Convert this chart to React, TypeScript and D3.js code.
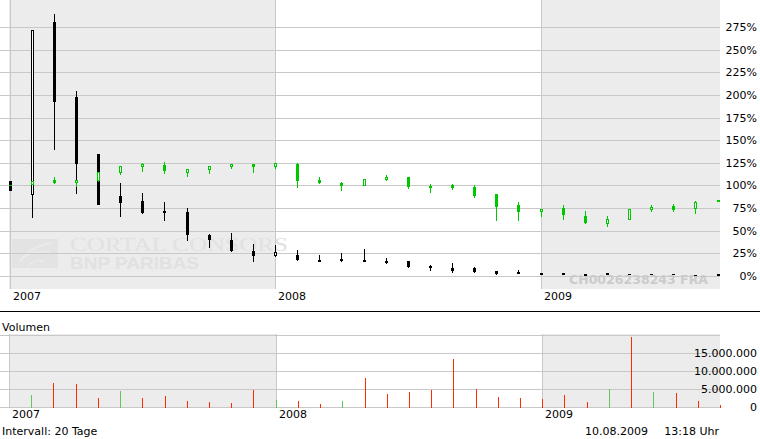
import React from "react";
import * as d3 from "d3";

// ---- data ----
const yearLabels = ["2007", "2008", "2009"];
const yearStartIndex = [0, 12, 24];

const blackOpen = [105, 90, 280, 198, 135, 88, 83, 72, 71, 45, 40, 28, 22, 23, 18, 19, 18, 17, 16.6, 11.4, 8.5, 8.5, 5.2, 4.8, 3, 2.8, 2, 3, 2.4, 2.2, 1.8, 1.6, 2.2];
const blackHigh = [105, 272, 289, 204, 135, 103, 92, 82, 75, 46, 47, 35, 34, 29, 23, 25, 30, 20, 16.6, 12, 14.4, 9.6, 5.2, 6.6, 3, 3.4, 2.4, 3.4, 2.4, 2.6, 1.8, 1.6, 2.6];
const blackLow = [94, 64, 139, 91, 78, 65, 68, 61, 39, 31, 26, 15, 21, 17, 15.5, 15, 15, 13, 9, 6, 3.7, 3.7, 1, 2.5, 1.4, 1, 0.4, 1, 1.2, 0.8, 1, 0.6, 0.2];
const blackClose = [94, 272, 192, 124, 78, 81, 70, 70, 45, 40, 28, 22, 26.5, 18, 15.5, 17, 15.5, 14, 10.3, 8.5, 5.5, 4.4, 2.5, 2.5, 1.4, 1, 0.4, 1, 1.2, 0.8, 1, 0.6, 0.2];

const greenOpen = [100, 100.5, 106, 103, 105, 114, 120.7, 123, 114, 117.4, 120.7, 123.7, 120.7, 123.7, 106, 103, 99.7, 106, 109.3, 99.7, 100.5, 98.3, 90.6, 78.4, 71, 74.8, 66.3, 57.8, 61.5, 73.2, 77.3, 73.6, 81.4];
const greenHigh = [100, 105, 109, 106, 115, 121.5, 125, 126, 117.8, 121, 123.7, 123.7, 124.5, 124.5, 109.3, 103.8, 106.8, 111.9, 109.3, 101.6, 101.9, 100.8, 90.6, 82, 74.3, 78.4, 71.8, 66.3, 74.3, 78, 79.5, 82.8, 83.6];
const greenLow = [100, 100.5, 101.6, 98.6, 104, 112, 115, 112.6, 109.6, 112.6, 118.5, 114, 118.2, 97.5, 101.6, 93.9, 99.7, 104.9, 96.4, 92, 95, 85.8, 60.7, 60.7, 65.2, 62.2, 57.4, 54.1, 61.5, 71, 71, 68.8, 81.4];
const greenClose = [100, 105, 103, 106, 114.5, 121.5, 124, 116.3, 117.8, 121, 123.7, 120.7, 124.5, 105.2, 102.4, 99.4, 106.8, 109.7, 98.6, 97.5, 96.9, 88.3, 76.5, 71, 74.3, 67, 58.9, 63, 74.3, 76.2, 73.2, 81.7, 83.6];

const volumeMillions = [0, 3.4, 6.75, 6.4, 2.6, 4.5, 2.6, 3.1, 1.75, 1.5, 1.2, 4.8, 2.0, 1.75, 0.9, 1.75, 8.1, 3.7, 4.25, 4.8, 13.4, 5.1, 2.9, 2.6, 2.3, 3.4, 1.5, 5.1, 19.5, 4.25, 4.0, 1.75, 0.6];
const volumeUp = [1, 1, 0, 0, 0, 1, 0, 0, 0, 0, 0, 0, 1, 0, 0, 1, 0, 0, 0, 0, 0, 0, 0, 0, 0, 0, 0, 1, 0, 1, 0, 0, 0];

const priceTicks = [0, 25, 50, 75, 100, 125, 150, 175, 200, 225, 250, 275];
const volumeGrid = [0, 5, 10, 15, 20];
const volumeTickLabels = ["0", "5.000.000", "10.000.000", "15.000.000"];

const FONT = "'DejaVu Sans', Verdana, sans-serif";
const BG = "#ececec";
const GRID = "#c8c8c8";
const GREEN = "#00c800";

function Candles({ open, high, low, close, color, hollowFill, x, y }) {
  return (
    <g>
      {open.map((o, i) => {
        const cx = Math.round(x(i));
        const c = close[i];
        const top = Math.round(y(Math.max(o, c)));
        const bot = Math.round(y(Math.min(o, c)));
        const yh = Math.round(y(high[i]));
        const yl = Math.round(y(low[i]));
        const up = c > o;
        const h = Math.max(1, bot - top);
        return (
          <g key={i}>
            {yl - yh > 0 && (
              <line x1={cx + 0.5} x2={cx + 0.5} y1={yh} y2={yl} stroke={color} strokeWidth={1} />
            )}
            {up && h >= 3 ? (
              <rect x={cx - 0.5} y={top + 0.5} width={2} height={h - 1} fill={hollowFill} stroke={color} strokeWidth={1} />
            ) : (
              <rect x={cx - 1} y={top} width={3} height={h} fill={color} />
            )}
          </g>
        );
      })}
    </g>
  );
}

export default function App() {
  const n = blackOpen.length;
  const x = d3.scaleLinear().domain([0, n - 1]).range([9.5, 717.5]);
  const xv = d3.scaleLinear().domain([0, n - 1]).range([9, 720]);
  const y = d3.scaleLinear().domain([0, 275]).range([276, 27]);
  const yv = d3.scaleLinear().domain([0, 20]).range([407, 335]);

  const plotLeft = 9;
  const plotRight = 720;
  const yearX = yearStartIndex.map((i) => Math.round(x(i)));
  const yearXV = yearStartIndex.map((i) => Math.round(xv(i)));

  return (
    <svg width={760} height={439} style={{ position: "absolute", left: 0, top: 0, display: "block" }}>
      <rect x={0} y={0} width={760} height={439} fill="#fff" />
      {/* ---- main panel ---- */}
      <rect x={plotLeft} y={0} width={yearX[1] - plotLeft} height={289} fill={BG} />
      <rect x={yearX[2]} y={0} width={plotRight - yearX[2]} height={289} fill={BG} />

      {/* watermark */}
      <g>
        <rect x={12} y={239} width={46} height={29} fill="#e3e3e3" />
        <path d="M20,262 Q30,246 52,243" stroke="#ebebeb" strokeWidth={2} fill="none" />
        <path d="M22,258 Q34,250 50,252" stroke="#ebebeb" strokeWidth={1.5} fill="none" />
        <path d="M28,266 Q36,258 44,262" stroke="#ebebeb" strokeWidth={1.5} fill="none" />
        <text fill="#e1e1e1">
          <tspan x={70} y={251} fontFamily="'Liberation Serif', serif" fontSize={19} textLength={218} lengthAdjust="spacingAndGlyphs">CORTAL CONSORS</tspan>
          <tspan x={70} y={269} fontFamily="'Liberation Sans', Arial, sans-serif" fontWeight="bold" fontSize={17} textLength={129} lengthAdjust="spacingAndGlyphs">BNP PARIBAS</tspan>
        </text>
        <text x={569} y={284} fontFamily={FONT} fontWeight="bold" fontSize={11.5} fill="#cbcbcb" textLength={139} lengthAdjust="spacingAndGlyphs">CH0026238243 FRA</text>
      </g>

      {priceTicks.map((t) => (
        <g key={t}>
          <line x1={0} x2={plotRight} y1={Math.round(y(t)) + 0.5} y2={Math.round(y(t)) + 0.5} stroke={GRID} strokeWidth={1} />
          <text x={757} y={Math.round(y(t)) + 0.5} dy="0.36em" textAnchor="end" fontFamily={FONT} fontSize={11} fill="#000">{t}%</text>
        </g>
      ))}
      {yearX.map((xx, k) => (
        <g key={k}>
          <line x1={xx + 0.5} x2={xx + 0.5} y1={0} y2={289} stroke={GRID} strokeWidth={1} />
          <text x={xx + 3} y={300} fontFamily={FONT} fontSize={11} fill="#000">{yearLabels[k]}</text>
        </g>
      ))}

      <Candles open={blackOpen} high={blackHigh} low={blackLow} close={blackClose} color="#000" hollowFill="#fff" x={x} y={y} />
      <Candles open={greenOpen} high={greenHigh} low={greenLow} close={greenClose} color={GREEN} hollowFill="#fff" x={x} y={y} />

      {/* separator */}
      <line x1={0} x2={760} y1={311.5} y2={311.5} stroke="#000" strokeWidth={1} />

      {/* ---- volume panel ---- */}
      <text x={2} y={331} fontFamily={FONT} fontSize={11} fill="#000">Volumen</text>
      <rect x={plotLeft} y={334} width={yearXV[1] - plotLeft} height={73} fill={BG} />
      <rect x={yearXV[2]} y={334} width={plotRight - yearXV[2]} height={73} fill={BG} />
      {volumeGrid.map((t) => (
        <line key={t} x1={0} x2={plotRight} y1={Math.round(yv(t)) + 0.5} y2={Math.round(yv(t)) + 0.5} stroke={GRID} strokeWidth={1} />
      ))}
      {volumeTickLabels.map((lab, k) => (
        <text key={lab} x={757} y={Math.round(yv(volumeGrid[k])) + 0.5} dy="0.36em" textAnchor="end" fontFamily={FONT} fontSize={11} fill="#000">{lab}</text>
      ))}
      {yearXV.map((xx, k) => (
        <g key={k}>
          <line x1={xx + 0.5} x2={xx + 0.5} y1={334} y2={407} stroke={GRID} strokeWidth={1} />
          <text x={xx + 3} y={417.5} fontFamily={FONT} fontSize={11} fill="#000">{yearLabels[k]}</text>
        </g>
      ))}
      {volumeMillions.map((v, i) =>
        v > 0 ? (
          <line key={i} x1={Math.round(xv(i)) + 0.5} x2={Math.round(xv(i)) + 0.5} y1={Math.round(yv(v))} y2={Math.round(yv(0)) + 1} stroke={volumeUp[i] ? "#5ec85e" : "#ff2a00"} strokeWidth={1} />
        ) : null
      )}

      {/* footer */}
      <text x={2} y={435} fontFamily={FONT} fontSize={11} fill="#000">Intervall: 20 Tage</text>
      <text x={648} y={435} textAnchor="end" fontFamily={FONT} fontSize={11} fill="#000">10.08.2009</text>
      <text x={719} y={435} textAnchor="end" fontFamily={FONT} fontSize={11} fill="#000">13:18 Uhr</text>
    </svg>
  );
}
